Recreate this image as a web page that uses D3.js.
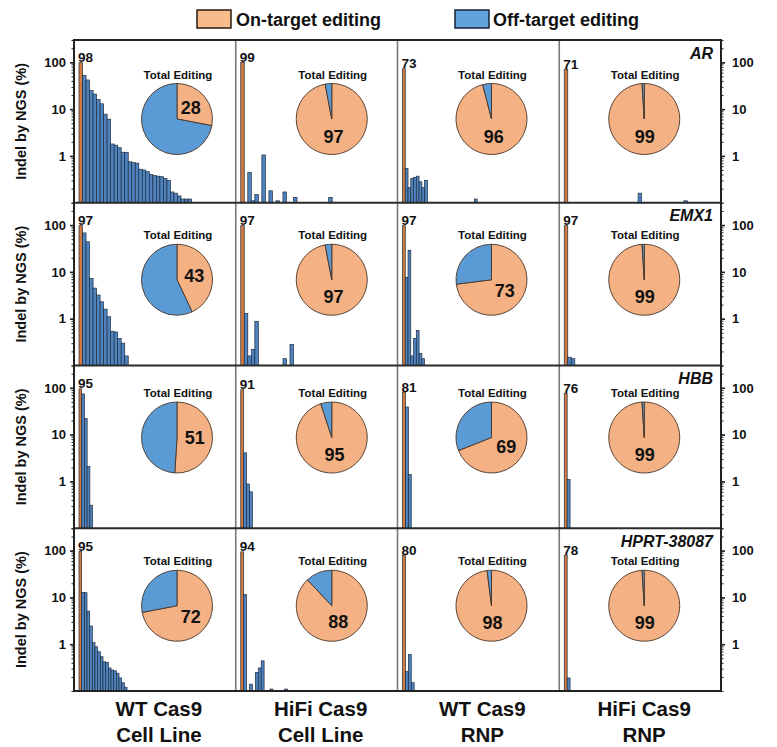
<!DOCTYPE html>
<html><head><meta charset="utf-8">
<script src="https://cdn.jsdelivr.net/npm/d3@7"></script>
<style>body{margin:0;background:#fff}svg{display:block;font-family:"Liberation Sans",Arial,sans-serif}</style>
</head><body>
<svg id="c" width="777" height="747"></svg>
<script>
// ---------------- data ----------------
const genes = ["AR", "EMX1", "HBB", "HPRT-38087"];
const conditions = [["WT Cas9", "Cell Line"], ["HiFi Cas9", "Cell Line"], ["WT Cas9", "RNP"], ["HiFi Cas9", "RNP"]];
const legendLabels = ["On-target editing", "Off-target editing"];
const yTickValues = [1, 10, 100];
const pieTitle = "Total Editing";
const yAxisTitle = "Indel by NGS (%)";

// on-target indel (%) per gene x condition (bar + label)
const onTargetAR   = [98, 99, 73, 71];
const onTargetEMX1 = [97, 97, 97, 97];
const onTargetHBB  = [95, 91, 81, 76];
const onTargetHPRT = [95, 94, 80, 78];

// share of total editing that is on-target (%) (pie)
const totalOnAR   = [28, 97, 96, 99];
const totalOnEMX1 = [43, 97, 73, 99];
const totalOnHBB  = [51, 95, 69, 99];
const totalOnHPRT = [72, 88, 98, 99];

// off-target indel (%) per site, in plotted order (0 = not detected)
const offAR = [
  [52,42,25,21,16,13,7.8,6.1,1.8,1.7,1.5,1.2,1.18,0.75,0.72,0.7,0.52,0.5,0.46,0.4,0.38,0.37,0.36,0.33,0.3,0.17,0.16,0.14,0.12,0.12,0.12],
  [0,0.44,0.11,0.15,0,1.05,0,0.18,0,0.11,0,0.17,0,0,0.13,0,0,0,0,0,0,0,0,0,0.13],
  [0.54,0.21,0.33,0.35,0.37,0.28,0.21,0.3,0,0,0,0,0,0,0,0,0,0,0,0,0,0,0,0,0,0.12],
  [0,0,0,0,0,0,0,0,0,0,0,0,0,0,0,0,0,0,0,0,0.16,0,0,0,0,0,0,0,0,0,0,0,0,0.11]
];
const offEMX1 = [
  [68,44,7.2,4.5,3.2,2.3,1.6,1.1,0.54,0.52,0.38,0.3,0.16],
  [1.3,0.16,0.22,0.88,0,0,0,0,0,0,0,0.14,0,0.28],
  [7.6,29,0.16,0.38,0.56,0.18,0.14],
  [0.15,0.14]
];
const offHBB = [
  [74,22,2.1,0.31],
  [4.1,0.88,0.6],
  [39,1.4],
  [1.1]
];
const offHPRT = [
  [12.8,12.6,5.1,2.45,1.08,0.88,0.69,0.54,0.42,0.41,0.31,0.28,0.27,0.24,0.19,0.15,0.12],
  [11.6,0,0.14,0,0.25,0.31,0.44,0,0,0.11,0,0,0,0,0.11],
  [0.26,0.6,0.15],
  [0.19]
];
// number of site slots on each panel's x axis
const slotsAR   = [44, 44, 56, 44];
const slotsEMX1 = [44, 44, 56, 44];
const slotsHBB  = [57, 53, 53, 53];
const slotsHPRT = [58, 53, 53, 53];

// ---------------- layout ----------------
const onTarget = [onTargetAR, onTargetEMX1, onTargetHBB, onTargetHPRT];
const totalOn = [totalOnAR, totalOnEMX1, totalOnHBB, totalOnHPRT];
const offTarget = [offAR, offEMX1, offHBB, offHPRT];
const slots = [slotsAR, slotsEMX1, slotsHBB, slotsHPRT];

const C = {pieOn:"#f4b183", pieOff:"#5b9bd5", barOn:"#d27a3f", barOff:"#4f83c0",
           barStroke:"#1f2d3d", pieStroke:"#4a3426", ink:"#111"};
const L = 74, R = 721, T = 40, B = 691;
const svg = d3.select("#c");
const colX = d3.scaleLinear().domain([0, 4]).range([L, R]);
const rowY = d3.scaleLinear().domain([0, 4]).range([T, B]);
const colW = colX(1) - colX(0), rowH = rowY(1) - rowY(0);
const pieDx = [103, 96, 94, 85];
const pieDy = [79, 77, 72, 77.5];
const pieR = 35.5;

// legend
const lg = svg.append("g");
[[197, 236, C.pieOn, "#2a1a10"], [455, 493, "#62a3dc", "#14253a"]].forEach((p, i) => {
  lg.append("rect").attr("x", p[0]).attr("y", 10).attr("width", 34).attr("height", 18)
    .attr("fill", i ? p[2] : "#f8bc8c").attr("stroke", p[3]).attr("stroke-width", 1.5);
  lg.append("text").attr("x", p[1]).attr("y", 25.5).attr("font-size", 18).attr("font-weight", "bold")
    .attr("fill", C.ink).text(legendLabels[i]);
});

const pie = d3.pie().sort(null).value(d => d);
const arc = d3.arc().innerRadius(0).outerRadius(pieR);

genes.forEach((gene, r) => {
  const y0 = rowY(r), y1 = rowY(r + 1);
  const y = d3.scaleLog().domain([0.1, 300]).range([y1, y0]);

  // y axis title
  svg.append("text").attr("transform", `translate(21,${(y0 + y1) / 2}) rotate(-90)`)
    .attr("text-anchor", "middle").attr("dominant-baseline", "central")
    .attr("font-size", 14.5).attr("font-weight", "bold").attr("fill", C.ink).text(yAxisTitle);

  const minor = y.ticks().filter(v => v >= 0.1 && v <= 300);
  // left axis
  const la = svg.append("g").attr("transform", `translate(${L},0)`)
    .call(d3.axisLeft(y).tickValues(minor).tickSize(2.5).tickFormat(""));
  la.select(".domain").remove();
  la.selectAll("line").attr("stroke", "#222").attr("stroke-width", 1);
  const la2 = svg.append("g").attr("transform", `translate(${L},0)`)
    .call(d3.axisLeft(y).tickValues(yTickValues).tickSize(4).tickPadding(4).tickFormat(d3.format("d")));
  la2.select(".domain").remove();
  la2.selectAll("line").attr("stroke", "#222").attr("stroke-width", 1.6);
  la2.selectAll("text").attr("font-size", 13).attr("font-weight", "bold").attr("fill", C.ink)
    .attr("font-family", "Liberation Sans, Arial, sans-serif");
  // right axis
  const ra = svg.append("g").attr("transform", `translate(${R},0)`)
    .call(d3.axisRight(y).tickValues(minor).tickSize(2.5).tickFormat(""));
  ra.select(".domain").remove();
  ra.selectAll("line").attr("stroke", "#222").attr("stroke-width", 1);
  const ra2 = svg.append("g").attr("transform", `translate(${R},0)`)
    .call(d3.axisRight(y).tickValues(yTickValues).tickSize(4).tickPadding(7).tickFormat(d3.format("d")));
  ra2.select(".domain").remove();
  ra2.selectAll("line").attr("stroke", "#222").attr("stroke-width", 1.6);
  ra2.selectAll("text").attr("font-size", 13).attr("font-weight", "bold").attr("fill", C.ink)
    .attr("font-family", "Liberation Sans, Arial, sans-serif");

  conditions.forEach((cond, c) => {
    const px = colX(c);
    const n = slots[r][c];
    const x = d3.scaleBand().domain(d3.range(n)).range([px + 5, px + colW - 2]).paddingInner(0);
    const g = svg.append("g");
    const bars = [{i: 0, v: onTarget[r][c], on: true}]
      .concat(offTarget[r][c].map((v, i) => ({i: i + 1, v, on: false})).filter(d => d.v > 0));
    g.selectAll("rect").data(bars).join("rect")
      .attr("x", d => x(d.i)).attr("width", x.bandwidth())
      .attr("y", d => y(d.v)).attr("height", d => y(0.1) - y(d.v))
      .attr("fill", d => d.on ? C.barOn : C.barOff)
      .attr("stroke", C.barStroke).attr("stroke-width", 0.7);

    // on-target value label
    g.append("text").attr("x", x(0) - 1).attr("y", y(onTarget[r][c]) - 0.5)
      .attr("font-size", 13.5).attr("font-weight", "bold").attr("fill", C.ink)
      .text(onTarget[r][c]);

    // pie
    const cx = px + pieDx[c], cy = y0 + pieDy[r];
    const pg = g.append("g").attr("transform", `translate(${cx},${cy})`);
    const on = totalOn[r][c];
    const arcs = pie([on, 100 - on]);
    pg.selectAll("path").data(arcs).join("path").attr("d", arc)
      .attr("fill", (d, i) => i ? C.pieOff : C.pieOn)
      .attr("stroke", C.pieStroke).attr("stroke-width", 0.9);
    const cen = arc.centroid(arcs[0]);
    pg.append("text").attr("x", cen[0]).attr("y", cen[1]).attr("text-anchor", "middle")
      .attr("dominant-baseline", "central").attr("font-size", 18).attr("font-weight", "bold")
      .attr("fill", C.ink).text(on);
    pg.append("text").attr("x", 1).attr("y", -pieR - 5).attr("text-anchor", "middle")
      .attr("font-size", 11.5).attr("font-weight", "bold").attr("fill", C.ink).text(pieTitle);
  });

  // gene label
  svg.append("text").attr("x", R - 8).attr("y", y0 + 18.5).attr("text-anchor", "end")
    .attr("font-size", 16).attr("font-weight", "bold").attr("font-style", "italic")
    .attr("fill", C.ink).text(gene);
});

// frame: vertical dividers (gray), row dividers (dark), outer border
const fr = svg.append("g").attr("fill", "none");
[1, 2, 3].forEach(c => fr.append("line").attr("x1", colX(c)).attr("x2", colX(c)).attr("y1", T).attr("y2", B)
  .attr("stroke", "#7a7a7a").attr("stroke-width", 1.6));
[1, 2, 3].forEach(r => fr.append("line").attr("x1", L).attr("x2", R).attr("y1", rowY(r)).attr("y2", rowY(r))
  .attr("stroke", "#2a2a2a").attr("stroke-width", 2.2));
fr.append("rect").attr("x", L).attr("y", T).attr("width", R - L).attr("height", B - T)
  .attr("stroke", "#222").attr("stroke-width", 2);

// column labels
conditions.forEach((cond, c) => {
  const cxm = colX(c) + colW / 2 + 4;
  cond.forEach((t, k) => svg.append("text").attr("x", cxm).attr("y", 716 + k * 25.5)
    .attr("text-anchor", "middle").attr("font-size", 20.5).attr("font-weight", "bold")
    .attr("fill", C.ink).text(t));
});
</script>
</body></html>
